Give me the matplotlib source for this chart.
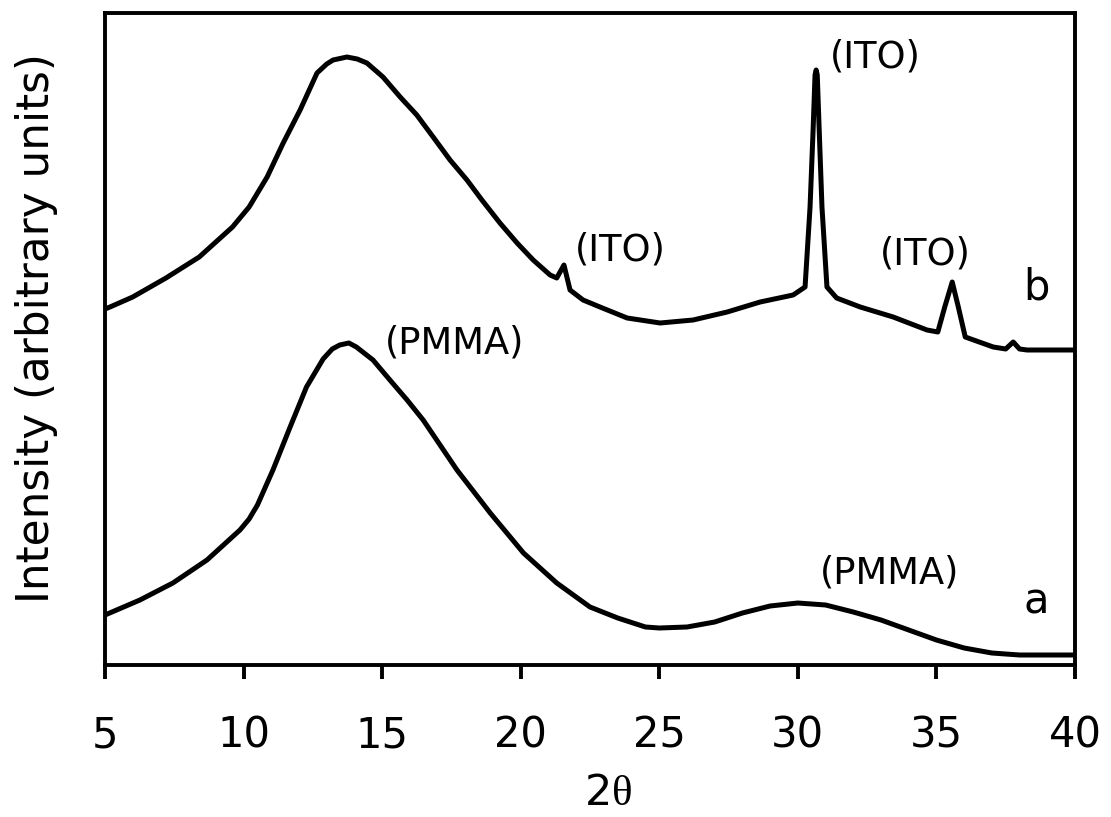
import matplotlib
matplotlib.use('Agg')
import matplotlib.pyplot as plt

# XRD patterns (intensity in arbitrary units)
two_theta_a = [5.0, 6.26, 7.45, 8.68, 9.87, 10.2, 10.5, 11.06, 11.68, 12.27, 12.87, 13.2,
               13.47, 13.8, 14.07, 14.67, 15.28, 15.9, 16.48, 17.7, 18.9, 20.1, 21.3, 22.5,
               23.5, 24.5, 25.0, 26.0, 27.0, 28.0, 29.0, 30.0, 31.0, 32.0, 33.0, 34.0,
               35.0, 36.0, 37.0, 38.0, 39.0, 40.0]
intensity_a = [50, 65, 82, 105, 135, 146, 160, 195, 238, 278, 306, 316,
               320, 322, 318, 305, 285, 265, 245, 195, 152, 112, 82, 58,
               47, 38, 37, 38, 43, 52, 59, 62, 60, 53, 45, 35,
               25, 17, 12, 10, 10, 10]

two_theta_b = [5.0, 5.18, 6.0, 7.2, 8.4, 9.6, 10.2, 10.85, 11.43, 12.04, 12.65, 13.0,
               13.23, 13.73, 14.1, 14.45, 15.03, 15.65, 16.25, 16.84, 17.45, 18.06, 18.6,
               19.25, 19.87, 20.45, 21.06, 21.3, 21.56, 21.78, 22.25, 22.86, 23.84, 25.03,
               26.22, 27.45, 28.64, 29.83, 30.26, 30.44, 30.55, 30.62, 30.66, 30.70, 30.77,
               30.87, 31.05, 31.4, 32.25, 33.44, 34.66, 35.05, 35.3, 35.57, 35.79, 36.04,
               37.05, 37.5, 37.77, 38.0, 38.27, 39.46, 40.0]
intensity_b = [356, 358, 368, 387, 408, 438, 458, 488, 522, 555, 592, 601,
               605, 608, 606, 602, 588, 568, 550, 528, 505, 485, 465,
               442, 422, 405, 390, 387, 400, 375, 365, 358, 347, 342,
               345, 353, 363, 370, 378, 458, 535, 590, 595, 590, 535,
               458, 378, 367, 358, 348, 335, 333, 358, 383, 358, 328,
               318, 316, 323, 316, 315, 315, 315]

x_ticks = [5, 10, 15, 20, 25, 30, 35, 40]

# peak labels: (text, 2theta, intensity)
peak_labels = [('(PMMA)', 15.1, 322),
               ('(PMMA)', 30.8, 92),
               ('(ITO)', 21.95, 415),
               ('(ITO)', 31.15, 608),
               ('(ITO)', 32.95, 411)]
curve_labels = [('a', 38.6, 64), ('b', 38.6, 378)]

plt.rcParams['font.family'] = ['DejaVu Sans']
plt.rcParams['mathtext.fontset'] = 'custom'
plt.rcParams['mathtext.it'] = 'Liberation Serif'
plt.rcParams['mathtext.rm'] = 'Liberation Serif'

fig = plt.figure(figsize=(11.11, 8.17), dpi=100)
ax = fig.add_axes([105 / 1111, 1 - 665 / 817, 970 / 1111, 652 / 817])

ax.plot(two_theta_a, intensity_a, color='black', lw=3.6, solid_joinstyle='round')
ax.plot(two_theta_b, intensity_b, color='black', lw=3.6, solid_joinstyle='round')

for txt, x, y in peak_labels:
    ax.text(x, y, txt, fontsize=26.5, ha='left', va='center')
for txt, x, y in curve_labels:
    ax.text(x, y, txt, fontsize=30, ha='center', va='center')

ax.set_xlim(5, 40)
ax.set_ylim(0, 652)
ax.set_xticks(x_ticks)
ax.set_yticks([])
ax.tick_params(axis='x', direction='out', length=10, width=2.8, pad=26, labelsize=30)
for s in ax.spines.values():
    s.set_linewidth(2.8)

ax.set_xlabel(r'2$\theta$', fontsize=31)
ax.xaxis.set_label_coords(0.519, -0.164)
ax.set_ylabel('Intensity (arbitrary units)', fontsize=31.5)
ax.yaxis.set_label_coords(-0.048, 0.517)

fig.savefig('out.png', dpi=100)
